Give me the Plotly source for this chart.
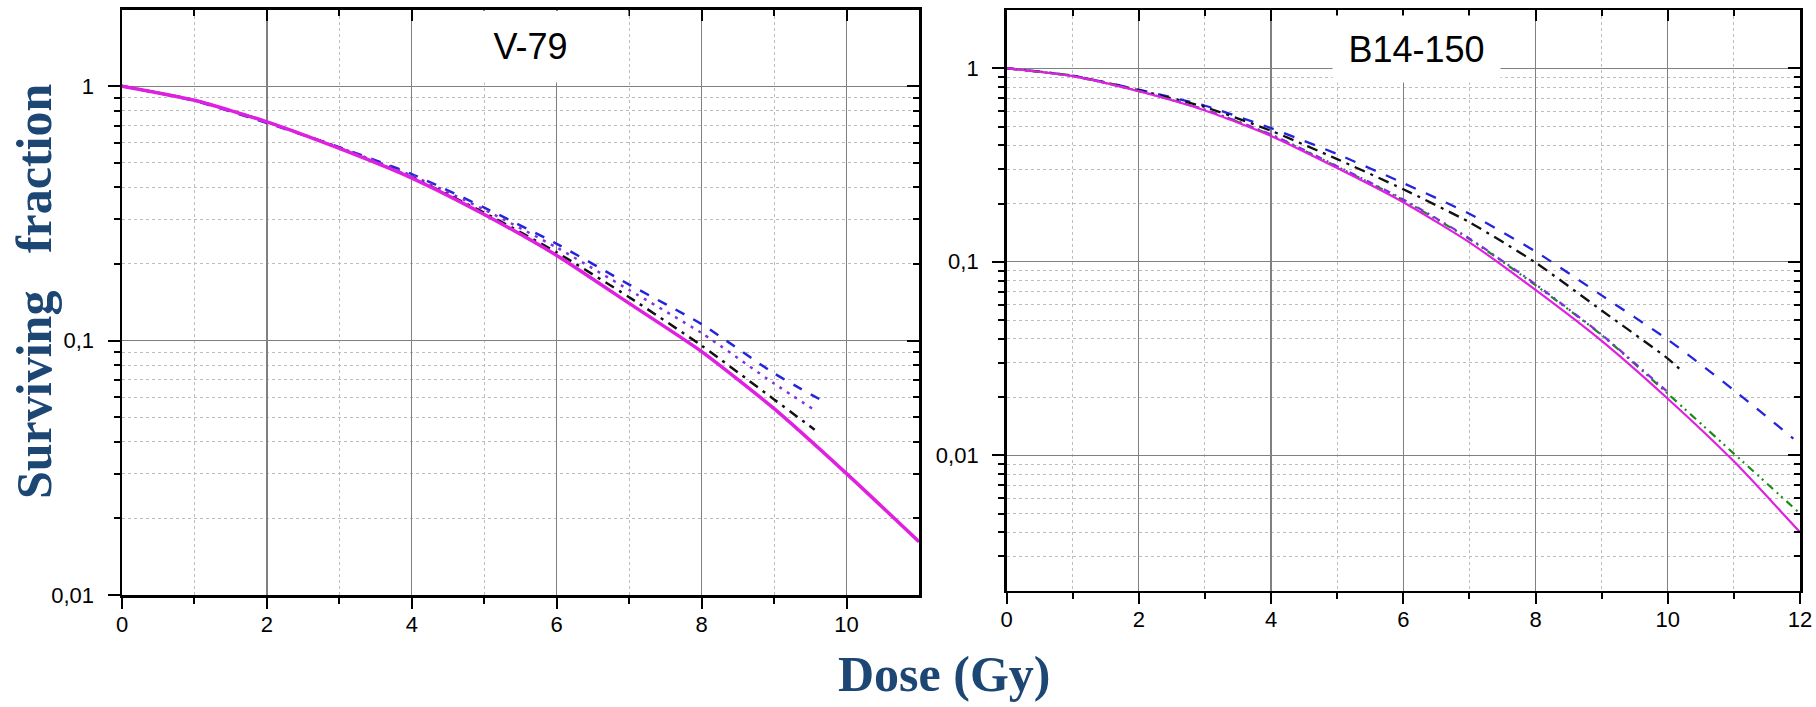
import plotly.graph_objects as go

# ---------------- data ----------------
# V-79 panel
dose_v79_mag = [0, 1, 2, 3, 4, 5, 6, 7, 8, 9, 10, 11]
sf_v79_mag = [1.0, 0.88, 0.724, 0.569, 0.435, 0.313, 0.216, 0.140, 0.0905, 0.054, 0.030, 0.0162]
dose_v79_green = [0, 1, 2, 3, 4, 5, 6]
sf_v79_green = [1.0, 0.88, 0.724, 0.569, 0.435, 0.313, 0.216]
dose_v79_black = [0, 1, 2, 3, 4, 5, 6, 7, 8, 9, 9.56]
sf_v79_black = [1.0, 0.88, 0.724, 0.571, 0.438, 0.318, 0.222, 0.148, 0.0955, 0.0587, 0.0446]
dose_v79_purple = [0, 1, 2, 3, 4, 5, 6, 7, 8, 9, 9.55]
sf_v79_purple = [1.0, 0.88, 0.722, 0.574, 0.445, 0.327, 0.232, 0.158, 0.107, 0.0678, 0.0535]
dose_v79_blue = [0, 1, 2, 3, 4, 5, 6, 7, 8, 9, 9.74]
sf_v79_blue = [1.0, 0.875, 0.716, 0.575, 0.451, 0.333, 0.240, 0.166, 0.116, 0.0743, 0.0565]

# B14-150 panel
dose_b14_mag = [0, 1, 2, 3, 4, 5, 6, 7, 8, 9, 10, 11, 12]
sf_b14_mag = [1.0, 0.91, 0.76, 0.605, 0.447, 0.305, 0.203, 0.126, 0.0715, 0.039, 0.0196, 0.0093, 0.0040]
dose_b14_green = [0, 1, 2, 3, 4, 5, 6, 7, 8, 9, 10, 11, 12]
sf_b14_green = [1.0, 0.91, 0.762, 0.61, 0.452, 0.31, 0.208, 0.131, 0.0757, 0.0418, 0.0208, 0.0102, 0.0050]
dose_b14_purple = [0, 1, 2, 3, 4, 5, 6, 7, 8, 9, 9.98]
sf_b14_purple = [1.0, 0.91, 0.763, 0.612, 0.455, 0.312, 0.21, 0.132, 0.0765, 0.042, 0.0215]
dose_b14_black = [0, 1, 2, 3, 4, 5, 6, 7, 8, 9, 10, 10.24]
sf_b14_black = [1.0, 0.915, 0.77, 0.63, 0.475, 0.339, 0.237, 0.16, 0.099, 0.056, 0.0316, 0.0267]
dose_b14_blue = [0, 1, 2, 3, 4, 5, 6, 7, 8, 9, 10, 11, 11.9]
sf_b14_blue = [1.0, 0.915, 0.775, 0.64, 0.49, 0.36, 0.255, 0.177, 0.113, 0.067, 0.0396, 0.0217, 0.0122]

# ticks
x_major_v79 = [0, 2, 4, 6, 8, 10]
x_minor_v79 = [1, 3, 5, 7, 9]
x_major_b14 = [0, 2, 4, 6, 8, 10, 12]
x_minor_b14 = [1, 3, 5, 7, 9, 11]
y_major_v79 = [0.01, 0.1, 1]
y_major_v79_text = ["0,01", "0,1", "1"]
y_minor_v79 = [0.02, 0.03, 0.04, 0.05, 0.06, 0.07, 0.08, 0.09,
               0.2, 0.3, 0.4, 0.5, 0.6, 0.7, 0.8, 0.9]
y_major_b14 = [0.01, 0.1, 1]
y_major_b14_text = ["0,01", "0,1", "1"]
y_minor_b14 = [0.003, 0.004, 0.005, 0.006, 0.007, 0.008, 0.009,
               0.02, 0.03, 0.04, 0.05, 0.06, 0.07, 0.08, 0.09,
               0.2, 0.3, 0.4, 0.5, 0.6, 0.7, 0.8, 0.9]

MAG = "#e020e0"
BLUE = "#2424dc"
PURPLE = "#8030e0"
BLACK = "#111111"
GREEN = "#1a8a1a"
TITLE_COL = "#1c4673"

W, H = 1816, 707

def px(x):
    return x / W

def py(y):
    return 1 - y / H

fig = go.Figure()

def add(x, y, color, width, dash, xa, ya):
    fig.add_trace(go.Scatter(x=x, y=y, mode="lines", xaxis=xa, yaxis=ya,
                             line=dict(color=color, width=width, dash=dash, shape="spline", smoothing=0.6),
                             showlegend=False, hoverinfo="skip"))

# left panel
add(dose_v79_green, sf_v79_green, GREEN, 2, "8px,4px,2px,4px,2px,4px", "x", "y")
add(dose_v79_blue, sf_v79_blue, BLUE, 2.5, "10px,10px", "x", "y")
add(dose_v79_purple, sf_v79_purple, PURPLE, 2.5, "3px,6px", "x", "y")
add(dose_v79_black, sf_v79_black, BLACK, 2.5, "10px,6px,3px,6px", "x", "y")
add(dose_v79_mag, sf_v79_mag, MAG, 3.5, "solid", "x", "y")

# right panel
add(dose_b14_blue, sf_b14_blue, BLUE, 2.3, "11px,11px", "x2", "y2")
add(dose_b14_black, sf_b14_black, BLACK, 2.3, "11px,6px,3px,6px", "x2", "y2")
add(dose_b14_green, sf_b14_green, GREEN, 2.2, "8px,5px,2px,4px,2px,5px", "x2", "y2")
add(dose_b14_purple, sf_b14_purple, PURPLE, 2.2, "7px,5px,2px,5px", "x2", "y2")
add(dose_b14_mag, sf_b14_mag, MAG, 2.2, "solid", "x2", "y2")

# dummy traces for the mirrored (inside-tick) axes
for xa, ya in [("x3", "y"), ("x", "y3"), ("x4", "y2"), ("x2", "y4")]:
    fig.add_trace(go.Scatter(x=[], y=[], xaxis=xa, yaxis=ya, showlegend=False, hoverinfo="skip"))

TICKFONT = dict(family="Liberation Sans, Arial, sans-serif", size=22, color="black")
L_DOM = [px(122), px(919)]
R_DOM = [px(1006.6), px(1800)]
L_YDOM = [py(595), py(9.5)]
R_YDOM = [py(590.5), py(10)]
YTOP = 0.30103

def xaxis_main(dom, rng, major, minor, anchor):
    return dict(domain=dom, range=rng, anchor=anchor, showline=True, linecolor="black", linewidth=2.5,
                ticks="outside", ticklen=11, tickwidth=2, tickcolor="black", automargin=False,
                tickmode="array", tickvals=major, ticktext=[str(v) for v in major],
                tickfont=TICKFONT, showgrid=True, gridcolor="#808080", gridwidth=1.2,
                zeroline=False, fixedrange=True, ticklabelstandoff=-3,
                minor=dict(tickmode="array", tickvals=minor, ticks="outside", ticklen=6, tickwidth=2,
                           tickcolor="black", showgrid=True, gridcolor="#bdbdbd", griddash="dot", gridwidth=1))

def yaxis_main(dom, rng, major, text, minor, anchor):
    return dict(domain=dom, type="log", range=rng, anchor=anchor, showline=True, linecolor="black",
                linewidth=2.5, ticks="outside", ticklen=12, tickwidth=2, tickcolor="black", automargin=False,
                tickmode="array", tickvals=major, ticktext=text, tickfont=TICKFONT,
                showgrid=True, gridcolor="#808080", gridwidth=1.2, zeroline=False, fixedrange=True,
                ticklabelstandoff=9,
                minor=dict(tickmode="array", tickvals=minor, ticks="outside", ticklen=6, tickwidth=2,
                           tickcolor="black", showgrid=True, gridcolor="#bdbdbd", griddash="dot", gridwidth=1))

def xaxis_top(dom, rng, major, minor, over, anchor):
    return dict(domain=dom, range=rng, overlaying=over, anchor=anchor, side="top", showline=True,
                linecolor="black", linewidth=2.5, ticks="inside", ticklen=11, tickwidth=2, tickcolor="black",
                tickmode="array", tickvals=major, showticklabels=False, showgrid=False, zeroline=False,
                fixedrange=True, automargin=False,
                minor=dict(tickmode="array", tickvals=minor, ticks="inside", ticklen=6, tickwidth=2,
                           tickcolor="black", showgrid=False))

def yaxis_right(dom, rng, major, minor, over, anchor):
    return dict(domain=dom, type="log", range=rng, overlaying=over, anchor=anchor, side="right",
                showline=True, linecolor="black", linewidth=2.5, ticks="inside", ticklen=12, tickwidth=2,
                tickcolor="black", tickmode="array", tickvals=major, showticklabels=False, showgrid=False,
                zeroline=False, fixedrange=True, automargin=False,
                minor=dict(tickmode="array", tickvals=minor, ticks="inside", ticklen=6, tickwidth=2,
                           tickcolor="black", showgrid=False))

fig.update_layout(
    template="none",
    width=W, height=H, autosize=False,
    margin=dict(l=0, r=0, t=0, b=0, pad=0),
    paper_bgcolor="white", plot_bgcolor="white",
    xaxis=xaxis_main(L_DOM, [0, 11], x_major_v79, x_minor_v79, "y"),
    yaxis=yaxis_main(L_YDOM, [-2, YTOP], y_major_v79, y_major_v79_text, y_minor_v79, "x"),
    xaxis2=xaxis_main(R_DOM, [0, 12], x_major_b14, x_minor_b14, "y2"),
    yaxis2=yaxis_main(R_YDOM, [-2.69897, YTOP], y_major_b14, y_major_b14_text, y_minor_b14, "x2"),
    xaxis3=xaxis_top(L_DOM, [0, 11], x_major_v79, x_minor_v79, "x", "y"),
    yaxis3=yaxis_right(L_YDOM, [-2, YTOP], y_major_v79, y_minor_v79, "y", "x"),
    xaxis4=xaxis_top(R_DOM, [0, 12], x_major_b14, x_minor_b14, "x2", "y2"),
    yaxis4=yaxis_right(R_YDOM, [-2.69897, YTOP], y_major_b14, y_minor_b14, "y2", "x2"),
)

ann = []
# panel titles in white boxes
ann.append(dict(text="V-79", xref="paper", yref="paper", x=px(530), y=py(46.5),
                xanchor="center", yanchor="middle", showarrow=False, bgcolor="white",
                width=195, height=71, borderpad=0,
                font=dict(family="Liberation Sans, Arial, sans-serif", size=36, color="black")))
ann.append(dict(text="B14-150", xref="paper", yref="paper", x=px(1416.5), y=py(49),
                xanchor="center", yanchor="middle", showarrow=False, bgcolor="white",
                width=167, height=66, borderpad=0,
                font=dict(family="Liberation Sans, Arial, sans-serif", size=36, color="black")))
# shared axis titles
ann.append(dict(text="<b>Surviving\u00a0\u00a0\u00a0fraction</b>", xref="paper", yref="paper",
                x=px(34), y=py(292), xanchor="center", yanchor="middle", textangle=-90,
                showarrow=False,
                font=dict(family="Liberation Serif, Times New Roman, serif", size=50, color=TITLE_COL)))
ann.append(dict(text="<b>Dose (Gy)</b>", xref="paper", yref="paper",
                x=px(944), y=py(674), xanchor="center", yanchor="middle",
                showarrow=False,
                font=dict(family="Liberation Serif, Times New Roman, serif", size=50, color=TITLE_COL)))
fig.update_layout(annotations=ann)

fig.write_html("out.html",
               config={"displayModeBar": False, "staticPlot": True},
               post_script="document.body.style.margin='0px';document.body.style.overflow='hidden';")
